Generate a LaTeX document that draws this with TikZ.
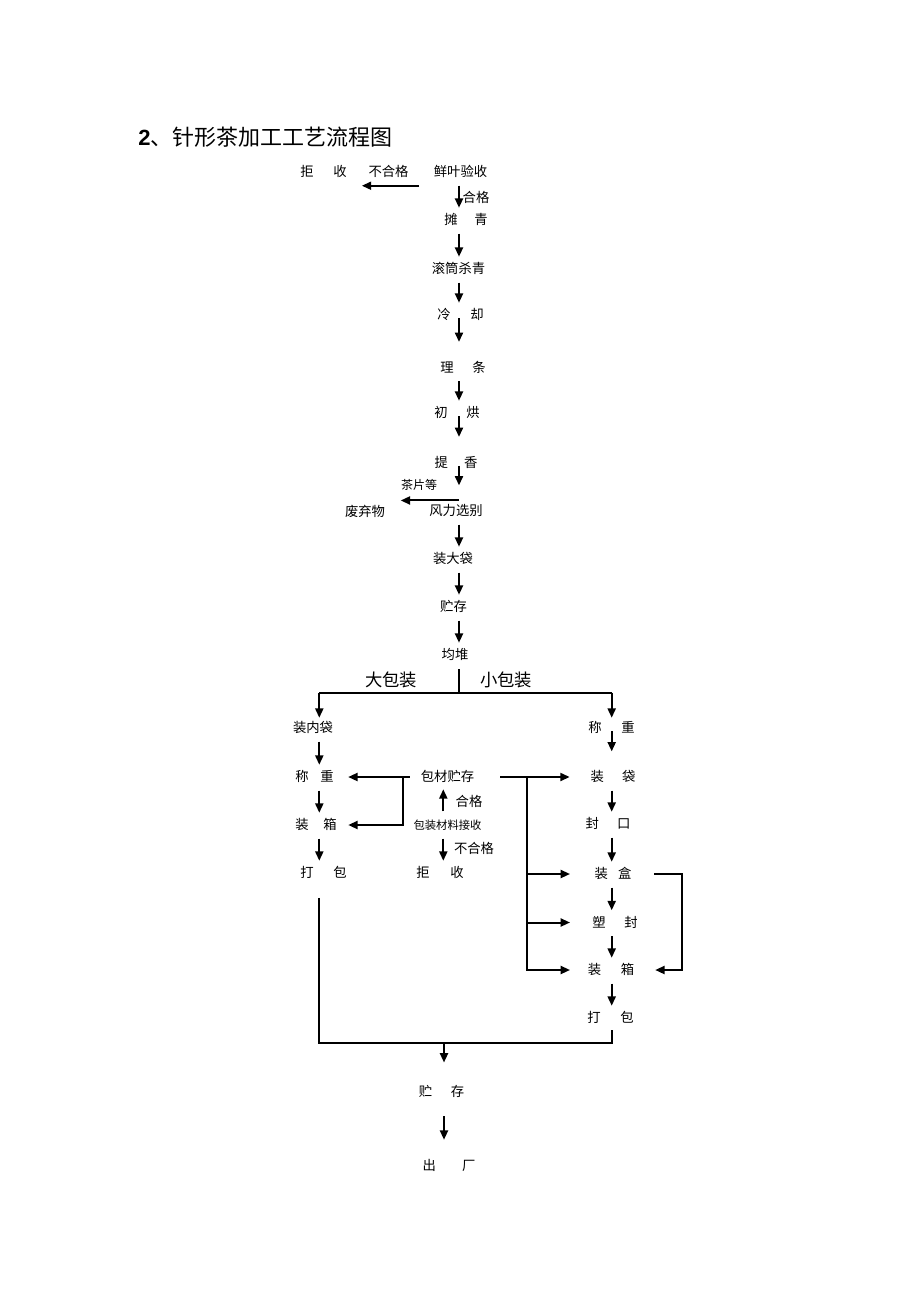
\documentclass[tikz,border=0pt]{standalone}
\usepackage{fontspec}
\setmainfont{Noto Sans CJK SC}
\newfontfamily\arialfont{Liberation Sans}
\usepackage{tikz}
\usetikzlibrary{arrows.meta, calc, positioning}
\newcommand{\twochar}[3]{#1\hspace{\dimexpr #3pt*3/4-1em\relax}#2}

\begin{document}
\begin{tikzpicture}[x=0.75pt, y=-0.75pt,
    every node/.style={font=\fontsize{10pt}{12pt}\selectfont, inner sep=0pt, text height=0.8em, text depth=0.1em},
    >={Triangle[length=7pt, width=6pt]},
    wire/.style={line width=1.4pt},
    thinwire/.style={line width=0.8pt},
    link/.style={->, line width=1.5pt},
    arr/.style={->, line width=1.5pt, shorten <=5.5pt, shorten >=4.5pt},
    mid/.style={->, line width=1.5pt, shorten <=2.5pt, shorten >=14.5pt}]
    \useasboundingbox (0,0) rectangle (920,1303);
    \node[anchor=west, font=\fontsize{16.5pt}{19pt}\selectfont] (title) at (138,141) {{\arialfont\bfseries 2}、针形茶加工工艺流程图};
    % main column
    \node (jt) at (323.5,172) {\twochar{拒}{收}{33}};
    \node (bh) at (388.5,172) {不合格};
    \node (xy) at (460.5,172) {鲜叶验收};
    \node (hg) at (476,198) {合格};
    \node (tq) at (466,220) {\twochar{摊}{青}{30}};
    \node (gt) at (458.5,269) {滚筒杀青};
    \node (lq) at (460.5,315) {\twochar{冷}{却}{33}};
    \node (lt) at (463,367.5) {\twochar{理}{条}{32}};
    \node (cb) at (457,413) {\twochar{初}{烘}{32}};
    \node (tx) at (456,462.5) {\twochar{提}{香}{29.5}};
    \node[font=\fontsize{9pt}{11pt}\selectfont] (cp) at (419,485) {茶片等};
    \node (fq) at (365,511.5) {废弃物};
    \node (fl) at (456,511) {风力选别};
    \node (zd) at (453,559) {装大袋};
    \node (zc) at (453.5,607) {贮存};
    \node (jd) at (455,655) {均堆};
    \node[font=\fontsize{13pt}{15pt}\selectfont] (dbz) at (391,681.7) {大包装};
    \node[font=\fontsize{13pt}{15pt}\selectfont] (xbz) at (506,681.7) {小包装};
    % big packs
    \node (znd) at (313,728) {装内袋};
    \node (cz1) at (314.5,777) {\twochar{称}{重}{25}};
    \node (zx1) at (316,825) {\twochar{装}{箱}{28}};
    \node (db1) at (323.5,873) {\twochar{打}{包}{33}};
    % packing material
    \node (bc) at (447.5,777) {包材贮存};
    \node (hg2) at (469,801.5) {合格};
    \node[font=\fontsize{8.5pt}{10pt}\selectfont] (bs) at (447.5,825) {包装材料接收};
    \node (bh2) at (474,849) {不合格};
    \node (js) at (440,873) {\twochar{拒}{收}{34}};
    % small packs
    \node (cz2) at (611.5,728) {\twochar{称}{重}{33}};
    \node (zd2) at (613,777) {\twochar{装}{袋}{31.5}};
    \node (fk) at (608,824) {\twochar{封}{口}{31.5}};
    \node (zh) at (613,874) {\twochar{装}{盒}{23.5}};
    \node (sf) at (615,922.5) {\twochar{塑}{封}{32}};
    \node (zx2) at (611,970) {\twochar{装}{箱}{33}};
    \node (db2) at (610.5,1018) {\twochar{打}{包}{33}};
    \node (zc2) at (441.5,1091.7) {\twochar{贮}{存}{32}};
    \node (cc) at (449,1166) {\twochar{出}{厂}{39.5}};
    % axes and corners
    \coordinate (ax) at (459,0);
    \coordinate (mx) at (443.3,0);
    \coordinate (rx) at (611.7,0);
    \coordinate (lx) at (319.3,0);
    \coordinate (bl) at (319.3,692.7);
    \coordinate (br) at (611.7,692.7);
    \coordinate (bk) at (402.7,777);
    \coordinate (rk) at (527.3,777);
    \coordinate (tp) at (570,0);
    \coordinate (lp) at (681.7,874);
    \coordinate (jl) at (319.3,1043);
    \coordinate (jr) at (611.7,1043);
    \coordinate (jn) at (444,1043);
    % main flow
    \draw[link, shorten <=10.9pt, shorten >=11.2pt] ([yshift=-10.3pt]xy.west) -- ([yshift=-10.3pt]jt.east);
    \draw[arr] (xy.south -| ax) -- (tq.north -| ax);
    \draw[arr] (tq.south -| ax) -- (gt.north -| ax);
    \draw[arr] (gt.south -| ax) -- (lq.north -| ax);
    \draw[mid] (lq -| ax) -- (lt.north -| ax);
    \draw[arr] (lt.south -| ax) -- (cb.north -| ax);
    \draw[mid] (cb -| ax) -- (tx.north -| ax);
    \draw[mid] (tx -| ax) -- (fl.north -| ax);
    \draw[link] ([yshift=3.2pt]fl.north -| ax) -- ([yshift=3.2pt]fl.north -| cp.west);
    \draw[arr] (fl.south -| ax) -- (zd.north -| ax);
    \draw[arr] (zd.south -| ax) -- (zc.north -| ax);
    \draw[arr] (zc.south -| ax) -- (jd.north -| ax);
    \draw[thinwire, shorten <=6pt] (jd.south -| ax) -- (bl -| ax);
    \draw[wire] (bl) -- (br);
    \draw[link, shorten >=3pt] (bl) -- (znd.north -| bl);
    \draw[link, shorten >=3pt] (br) -- (cz2.north -| br);
    % left column
    \draw[arr] (znd.south -| lx) -- (cz1.north -| lx);
    \draw[arr] (cz1.south -| lx) -- (zx1.north -| lx);
    \draw[arr] (zx1.south -| lx) -- (db1.north -| lx);
    \draw[link, shorten <=8pt, shorten >=10.7pt] (bc) -- (cz1);
    \draw[link, shorten >=8.5pt] (bk) |- (zx1);
    % middle column
    \draw[arr] (bs.north -| mx) -- (bc.south -| mx);
    \draw[arr] (bs.south -| mx) -- (js.north -| mx);
    % right column
    \draw[link, shorten <=19.4pt, shorten >=15.5pt] (bc) -- (zd2);
    \draw[link] (rk) |- (tp |- zx2);
    \draw[link] (rk |- zh) -- (tp |- zh);
    \draw[link] (rk |- sf) -- (tp |- sf);
    \draw[mid] (cz2 -| rx) -- (zd2.north -| rx);
    \draw[arr] (zd2.south -| rx) -- (fk.north -| rx);
    \draw[arr] (fk.south -| rx) -- (zh.north -| rx);
    \draw[arr] (zh.south -| rx) -- (sf.north -| rx);
    \draw[arr] (sf.south -| rx) -- (zx2.north -| rx);
    \draw[arr] (zx2.south -| rx) -- (db2.north -| rx);
    \draw[link, shorten <=17pt, shorten >=15.6pt] (zh) -- (lp) |- (zx2);
    % join
    \draw[wire, shorten <=14pt, shorten >=4.5pt] (db1.south -| jl) -- (jl) -- (jr) -- (db2.south -| jr);
    \draw[link, shorten >=17.2pt] (jn) -- (zc2.north -| jn);
    \draw[link, shorten <=13.7pt, shorten >=15pt] (zc2.south -| jn) -- (cc.north -| jn);
\end{tikzpicture}
\end{document}
